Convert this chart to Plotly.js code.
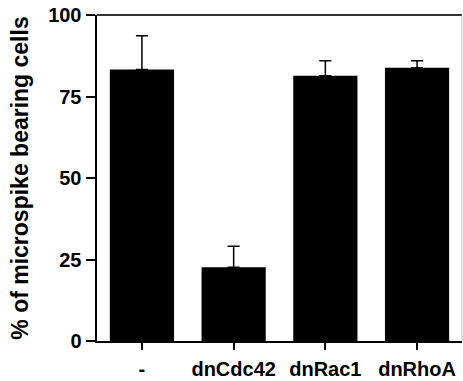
<!DOCTYPE html>
<html>
<head>
<meta charset="utf-8">
<script src="https://cdn.plot.ly/plotly-3.0.1.min.js"></script>
<style>html,body{margin:0;padding:0;background:#fff;}#chart{width:463px;height:381px;}</style>
</head>
<body>
<div id="chart"></div>
<script>
const categories = ['-', 'dnCdc42', 'dnRac1', 'dnRhoA'];
const values = [83.3, 22.6, 81.4, 83.8];
const errorsUp = [10.3, 6.5, 4.6, 2.2];
const errorsDown = [0, 0, 0, 0];
const yTicks = [0, 25, 50, 75, 100];

const font = "'Liberation Sans', Arial, sans-serif";

const trace = {
  type: 'bar',
  x: [0, 1, 2, 3],
  y: values,
  width: 0.7,
  marker: {color: '#000', line: {width: 0}},
  error_y: {type: 'data', symmetric: false, array: errorsUp, arrayminus: errorsDown,
            color: '#000', thickness: 1.5, width: 6},
  hoverinfo: 'none'
};

const layout = {
  width: 463, height: 381,
  margin: {l: 97, r: 1, t: 15, b: 40},
  paper_bgcolor: '#fff', plot_bgcolor: '#fff',
  showlegend: false,
  font: {family: font, color: '#000'},
  xaxis: {
    range: [-0.49, 3.49],
    tickvals: [0, 1, 2, 3],
    ticktext: categories,
    ticks: 'outside', ticklen: 7, tickwidth: 2, tickcolor: '#000',
    showline: true, linecolor: '#000', linewidth: 2,
    showgrid: false, zeroline: false,
    ticklabelstandoff: 2,
    tickfont: {family: font, size: 20, color: '#000', weight: 'bold'},
    fixedrange: true
  },
  yaxis: {
    range: [0, 100],
    tickvals: yTicks,
    ticktext: yTicks.map(String),
    ticks: 'outside', ticklen: 9, tickwidth: 2, tickcolor: '#000',
    showline: true, linecolor: '#000', linewidth: 2.5,
    showgrid: false, zeroline: false,
    tickfont: {family: font, size: 20, color: '#000', weight: 'bold'},
    title: {text: '% of microspike bearing cells', font: {family: font, size: 23, color: '#000', weight: 'bold'}, standoff: 13},
    fixedrange: true
  },
  shapes: [
    {type: 'line', xref: 'paper', yref: 'paper', x0: 0, x1: 1, y0: 1, y1: 1, line: {color: '#333', width: 2}},
    {type: 'line', xref: 'paper', yref: 'paper', x0: 1, x1: 1, y0: 0, y1: 1, line: {color: '#c8c8c8', width: 1}}
  ]
};

Plotly.newPlot('chart', [trace], layout, {displayModeBar: false, staticPlot: true});
</script>
</body>
</html>
